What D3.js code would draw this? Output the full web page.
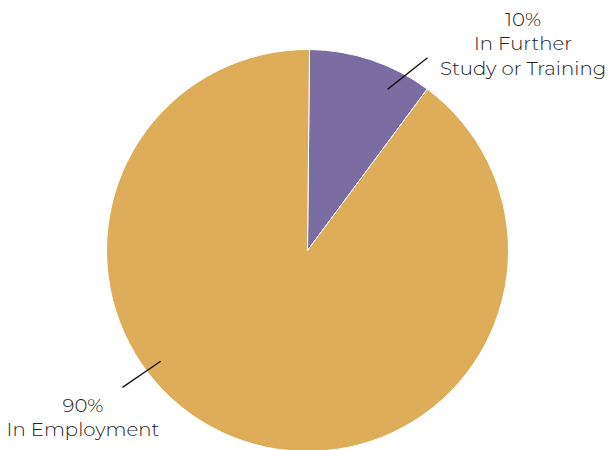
<!DOCTYPE html>
<html><head><meta charset="utf-8">
<script src="https://cdn.jsdelivr.net/npm/d3@7"></script>
<style>html,body{margin:0;padding:0;background:#fff;}</style>
</head><body>
<svg id="c" width="611" height="450"></svg>
<script>
const categories = ["In Further Study or Training", "In Employment"];
const values = [10, 90];
const labelLines = [["10%", "In Further", "Study or Training"], ["90%", "In Employment"]];
const colors = ["#7B6CA2", "#DDAD5A"];

const svg = d3.select("#c");
const cx = 307.5, cy = 250.5, r = 201;
const g = svg.append("g").attr("transform", `translate(${cx},${cy})`);
const pie = d3.pie().sort(null).startAngle(0.01).endAngle(2*Math.PI+0.01)(values);
const arc = d3.arc().innerRadius(0).outerRadius(r);
g.selectAll("path").data(pie).join("path")
  .attr("d", arc).attr("fill", (d,i)=>colors[i])
  .attr("stroke", "#fff").attr("stroke-width", 1);

// leader lines in polar coordinates (degrees clockwise from top, radius fraction)
const deg = Math.PI/180;
const leaders = [
  {a1: 26.4, r1: 0.895, a2: 31.9, r2: 1.13},
  {a1: 233, r1: 0.915, a2: 233.5, r2: 1.145}
];
const pt = (a, f) => [Math.sin(a*deg)*r*f, -Math.cos(a*deg)*r*f];
leaders.forEach(L=>{
  const p1 = pt(L.a1, L.r1), p2 = pt(L.a2, L.r2);
  g.append("line").attr("x1",p1[0]).attr("y1",p1[1]).attr("x2",p2[0]).attr("y2",p2[1])
    .attr("stroke","#111").attr("stroke-width",1.3);
});

const labelPos = [[523, 26], [83, 412]];
labelLines.forEach((lines,i)=>{
  const t = svg.append("text").attr("text-anchor","middle")
    .attr("font-family","Montserrat, 'Open Sans', sans-serif").attr("font-size",19.7)
    .attr("font-weight",300)
    .attr("fill","#222");
  lines.forEach((l,j)=>{
    t.append("tspan").attr("x",labelPos[i][0]).attr("y",labelPos[i][1]+j*24.3).text(l);
  });
});
</script>
</body></html>
